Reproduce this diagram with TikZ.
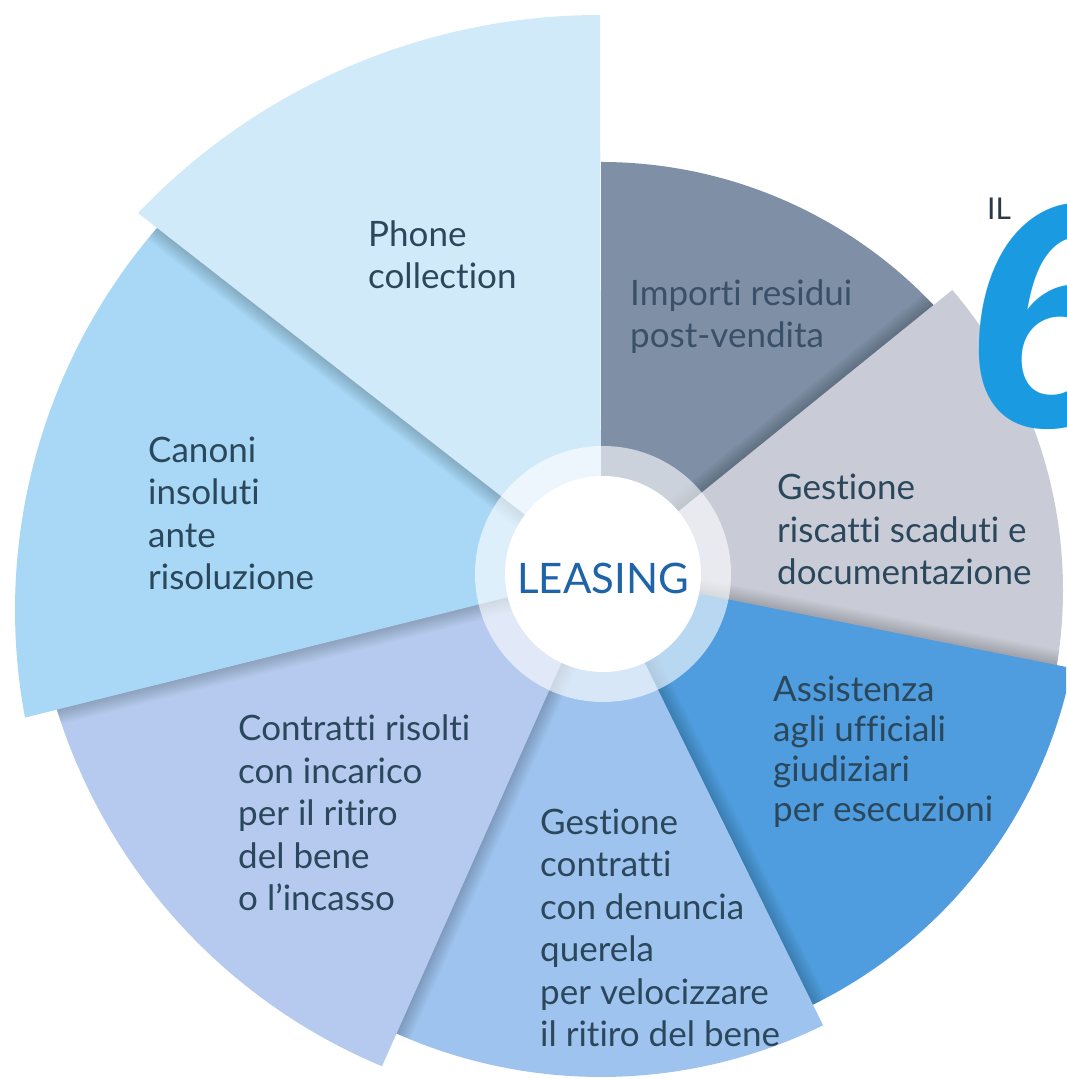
\documentclass[tikz,border=0pt]{standalone}
\usepackage{fontspec}
\setmainfont{Lato}[Ligatures=NoCommon]
\newfontfamily\sixfont{Liberation Sans}
\definecolor{cPhone}{HTML}{D0EAF9}
\definecolor{cCanoni}{HTML}{A8D8F5}
\definecolor{cContr}{HTML}{B5CAEE}
\definecolor{cGestC}{HTML}{9EC3EE}
\definecolor{cAssist}{HTML}{4F9DDE}
\definecolor{cGray}{HTML}{C9CCD7}
\definecolor{cImporti}{HTML}{7E8FA6}
\definecolor{txt}{HTML}{2B475B}
\definecolor{txtImp}{HTML}{3A5068}
\definecolor{leasing}{HTML}{1F64A8}
\definecolor{six}{HTML}{1A9AE0}
\definecolor{ilc}{HTML}{2A3A48}
\def\pImporti{(601,505) -- ([shift={(601,459)}]90:458) arc[start angle=90,end angle=35,radius=458] -- cycle}
\def\pGray{(601,505) -- ([shift={(601,489)}]40.5:462) arc[start angle=40.5,end angle=-16,radius=462] -- cycle}
\def\pAssist{(601,505) -- ([shift={(601,505)}]-11.3:480) arc[start angle=-11.3,end angle=-70,radius=480] -- cycle}
\def\pGestC{(601,505) -- ([shift={(601,505)}]296.2:503) arc[start angle=296.2,end angle=240,radius=503] -- cycle}
\def\pContr{(601,505) -- ([shift={(601,539)}]247.4:570) arc[start angle=247.4,end angle=188,radius=570] -- cycle}
\def\pCanoni{(601,505) -- ([shift={(600,469)}]190.6:585) arc[start angle=190.6,end angle=138,radius=585] -- cycle}
\def\pPhone{(601,505) -- ([shift={(600,426)}]90:638) arc[start angle=90,end angle=136.4,radius=638] -- cycle}
\begin{document}
\begin{tikzpicture}[x=1pt,y=1pt,
  lbl/.style={align=left, anchor=base west, text=txt, font=\fontsize{35}{42.5}\selectfont, inner sep=0pt},
  shade/.style={black, opacity=0.018}
]
\useasboundingbox (0,0) rectangle (1066,1079);
\begin{scope}
\clip (0,0) rectangle (1066,1079);
% bottom sector
\fill[cImporti] \pImporti;
% gray over importi
\begin{scope}\clip \pImporti;
\foreach \d in {1.5,3,...,15} \fill[shade,shift={(129:\d)}] \pGray;
\end{scope}
\fill[cGray] \pGray;
% assistenza over gray
\begin{scope}\clip \pGray;
\foreach \d in {1.5,3,...,15} \fill[shade,shift={(78.7:\d)}] \pAssist;
\end{scope}
\fill[cAssist] \pAssist;
% gestione contratti over assistenza
\begin{scope}\clip \pAssist;
\foreach \d in {1.5,3,...,15} \fill[shade,shift={(26.2:\d)}] \pGestC;
\end{scope}
\fill[cGestC] \pGestC;
% contratti risolti over gestione
\begin{scope}\clip \pGestC;
\foreach \d in {1.5,3,...,15} \fill[shade,shift={(336:\d)}] \pContr;
\end{scope}
\fill[cContr] \pContr;
% canoni over contratti
\begin{scope}\clip \pContr;
\foreach \d in {1.5,3,...,15} \fill[shade,shift={(284:\d)}] \pCanoni;
\end{scope}
\fill[cCanoni] \pCanoni;
% phone over canoni
\begin{scope}\clip \pCanoni;
\foreach \d in {1.5,3,...,15} \fill[shade,shift={(232:\d)}] \pPhone;
\end{scope}
\fill[cPhone] \pPhone;
% centre ring
\fill[white,opacity=0.6] (603,505) circle (128);
\fill[white] (603,505) circle (98);
% big six
\node[anchor=base west, inner sep=0pt, text=six, font=\fontsize{320}{320}\sixfont\bfseries\itshape] (six) at (964,652) {6};
\end{scope}
\node[font=\fontsize{42}{42}\selectfont, text=leasing, inner sep=0pt] (leasing) at (603,501) {LEASING};
\node[lbl] (phone) at (368,790) {Phone\\collection};
\node[lbl, text=txtImp] (importi) at (630,731) {Importi residui\\post-vendita};
\node[lbl] (riscatti) at (777,494) {Gestione\\riscatti scaduti e\\documentazione};
\node[lbl] (canoni) at (148,489) {Canoni\\insoluti\\ante\\risoluzione};
\node[lbl] (contratti) at (238,168) {Contratti risolti\\con incarico\\per il ritiro\\del bene\\o l’incasso};
\node[lbl] (gestc) at (540,32) {Gestione\\contratti\\con denuncia\\querela\\per velocizzare\\il ritiro del bene};
\node[lbl, font=\fontsize{35}{40}\selectfont] (assist) at (773,257) {Assistenza\\agli ufficiali\\giudiziari\\per esecuzioni};
\node[anchor=base west, inner sep=0pt, text=ilc, font=\fontsize{30}{30}\selectfont] (il) at (987,859) {IL};
\end{tikzpicture}
\end{document}
